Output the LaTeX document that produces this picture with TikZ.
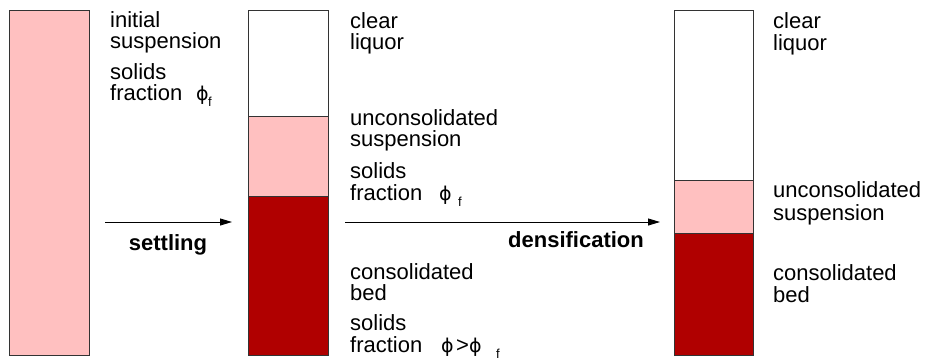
\documentclass[tikz,border=0pt]{standalone}
\usepackage{fontspec}
\setmainfont{Liberation Sans}
\newfontfamily\phifont{DejaVu Sans}
\usetikzlibrary{arrows.meta}
\definecolor{pinkfill}{HTML}{FFC0C0}
\definecolor{bedred}{HTML}{B00000}
\begin{document}
\begin{tikzpicture}[x=1pt,y=-1pt,
  lbl/.style={anchor=base west,inner sep=0pt,font=\fontsize{22}{23}\selectfont},
  phi/.style={anchor=base west,inner sep=0pt,font=\phifont\fontsize{19}{20}\selectfont},
  sub/.style={anchor=base west,inner sep=0pt,font=\fontsize{13}{14}\selectfont},
  act/.style={anchor=base,inner sep=0pt,font=\fontsize{22}{23}\selectfont\bfseries},
  col/.style={draw=black!80,line width=0.8pt},
  flow/.style={-{Triangle[length=12pt,width=7pt]},line width=0.9pt}]
\useasboundingbox (0,0) rectangle (927,360);
% column 1
\filldraw[col,fill=pinkfill] (9,10) rectangle (89,355);
% column 2
\filldraw[col,fill=white] (248,10) rectangle (328,116);
\filldraw[col,fill=pinkfill] (248,116) rectangle (328,196);
\filldraw[col,fill=bedred] (248,196) rectangle (328,355);
% column 3
\filldraw[col,fill=white] (674,10) rectangle (753,180);
\filldraw[col,fill=pinkfill] (674,180) rectangle (753,233);
\filldraw[col,fill=bedred] (674,233) rectangle (753,355);
% labels column 1
\node[lbl] (a1) at (110,27) {initial};
\node[lbl] (a2) at (110,48) {suspension};
\node[lbl] (a3) at (110,79) {solids};
\node[lbl] (a4) at (110,100) {fraction};
\node[phi] (a5) at (196,100) {ϕ};
\node[sub] (a6) at (208,106) {f};
% labels column 2
\node[lbl] (b1) at (350,28) {clear};
\node[lbl] (b2) at (350,49) {liquor};
\node[lbl] (b3) at (350,125) {unconsolidated};
\node[lbl] (b4) at (350,146.5) {suspension};
\node[lbl] (b5) at (350,178) {solids};
\node[lbl] (b6) at (350,200) {fraction};
\node[phi] (b7) at (439,200) {ϕ};
\node[sub] (b8) at (458,206) {f};
\node[lbl] (b9) at (350,279) {consolidated};
\node[lbl] (b10) at (350,300) {bed};
\node[lbl] (b11) at (350,330) {solids};
\node[lbl] (b12) at (350,352) {fraction};
\node[phi] (b13) at (441,352) {ϕ};
\node[lbl] (b14) at (456,352) {>};
\node[phi] (b15) at (469,352) {ϕ};
\node[sub] (b16) at (496,358) {f};
% labels column 3
\node[lbl] (c1) at (773,28) {clear};
\node[lbl] (c2) at (773,50) {liquor};
\node[lbl] (c3) at (773,197) {unconsolidated};
\node[lbl] (c4) at (773,220) {suspension};
\node[lbl] (c5) at (773,280) {consolidated};
\node[lbl] (c6) at (773,302) {bed};
% arrows
\coordinate (s1) at (105,222);
\coordinate (e1) at (232,222);
\coordinate (s2) at (345,222);
\coordinate (e2) at (660,222);
\draw[flow] (s1) -- (e1);
\draw[flow] (s2) -- (e2);
\node[act] (t1) at (168,250) {settling};
\node[act] (t2) at (576,247) {densification};
\end{tikzpicture}
\end{document}
